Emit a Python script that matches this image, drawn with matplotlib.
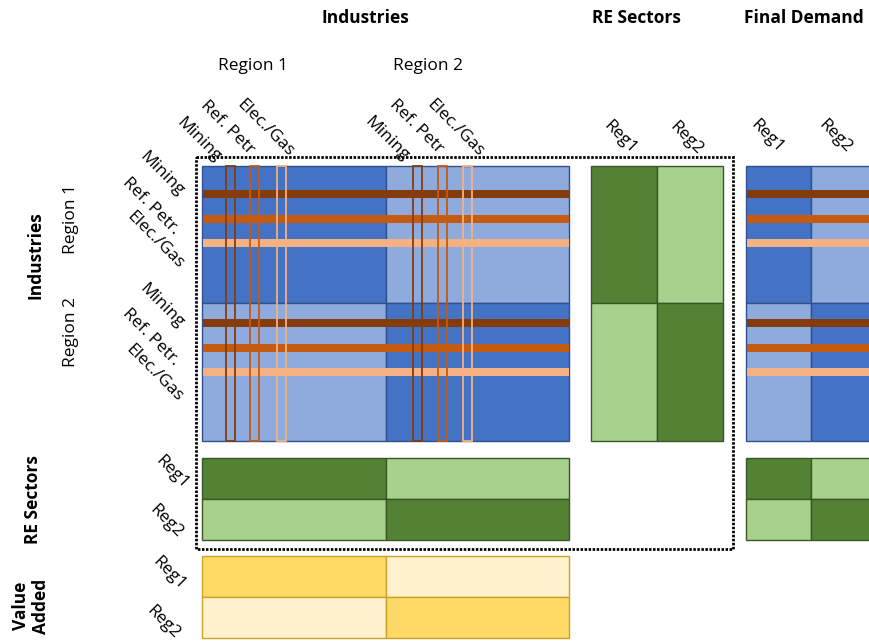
import matplotlib.pyplot as plt
from matplotlib.patches import Rectangle

plt.rcParams['font.family'] = ['Open Sans', 'DejaVu Sans']

##### labels #####
col_titles = ['Industries', 'RE Sectors', 'Final Demand']
row_titles = ['Industries', 'RE Sectors', 'Value\nAdded']
regions = ['Region 1', 'Region 2']
regs = ['Reg1', 'Reg2']
sectors_top = ['Mining', 'Ref. Petr', 'Elec./Gas']
sectors_side = ['Mining', 'Ref. Petr.', 'Elec./Gas']

# 1 = within-region flow (dark tile), 0 = cross-region flow (light tile)
pattern = [[1, 0],
           [0, 1]]

##### colours #####
blue_dark, blue_light, blue_edge = '#4472C4', '#8FAADC', '#2F528F'
green_dark, green_light, green_edge = '#548235', '#A9D18E', '#385723'
yellow_dark, yellow_light, yellow_edge = '#FFD966', '#FFF2CC', '#C9A227'
sector_colors = ['#843C0C', '#C55A11', '#F4B183']

##### layout (pixels) #####
ind_x = [202, 386, 569]
re_x = [591, 657, 723]
fd_x = [746, 811, 876]
ind_y = [166, 303, 441]
re_y = [458, 499, 540]
va_y = [556, 597, 638]
stripe_y = [[194, 219, 243], [323, 348, 372]]
stripe_x = [[230.5, 254.5, 281.5], [417.5, 442, 467.5]]

fig = plt.figure(figsize=(8.69, 6.42), dpi=100)
ax = fig.add_axes([0, 0, 1, 1])
ax.set_xlim(0, 869)
ax.set_ylim(642, 0)
ax.axis('off')


def block(xe, ye, dark, light, edge):
    for i in range(2):
        for j in range(2):
            c = dark if pattern[i][j] else light
            ax.add_patch(Rectangle((xe[j], ye[i]), xe[j + 1] - xe[j], ye[i + 1] - ye[i],
                                   facecolor=c, edgecolor=edge, lw=1, zorder=1))


# tiles
block(ind_x, ind_y, blue_dark, blue_light, blue_edge)
block(fd_x, ind_y, blue_dark, blue_light, blue_edge)
block(re_x, ind_y, green_dark, green_light, green_edge)
block(ind_x, re_y, green_dark, green_light, green_edge)
block(fd_x, re_y, green_dark, green_light, green_edge)
block(ind_x, va_y, yellow_dark, yellow_light, yellow_edge)

# horizontal sector stripes (rows) through industries and final demand
for i in range(2):
    for k in range(3):
        for xe in (ind_x, fd_x):
            ax.add_patch(Rectangle((xe[0] + 0.5, stripe_y[i][k] - 4.3), xe[2] - xe[0] - 1, 8.6,
                                   facecolor=sector_colors[k], edgecolor='none', zorder=2))

# vertical sector columns (outlined)
for j in range(2):
    for k in range(3):
        ax.add_patch(Rectangle((stripe_x[j][k] - 4.5, ind_y[0]), 9, ind_y[2] - ind_y[0],
                               fill=False, edgecolor=sector_colors[k], lw=1.3, zorder=3))

# dotted frame around the RE-extended transaction matrix
ax.add_patch(Rectangle((196, 157), 537, 392, fill=False, edgecolor='black',
                       lw=2.0, ls=(0, (0.9, 0.55)), zorder=4))

##### text #####
fs = 12.5
for x, t in zip([365, 636, 804], col_titles):
    ax.text(x, 18, t, ha='center', va='center', fontsize=fs, fontweight='bold')

for x, t in zip([253, 428], regions):
    ax.text(x, 66, t, ha='center', va='center', fontsize=fs)

ax.text(36, 255, row_titles[0], ha='center', va='center', rotation=90, fontsize=fs, fontweight='bold')
ax.text(33, 500, row_titles[1], ha='center', va='center', rotation=90, fontsize=fs, fontweight='bold')
ax.text(31, 606, row_titles[2], ha='center', va='center', rotation=90, fontsize=fs,
        fontweight='bold', linespacing=1.15)

for y, t in zip([219, 332], regions):
    ax.text(71, y, t, ha='center', va='center', rotation=90, fontsize=fs)

# column sector labels
top_centers = [[(198, 140), (227, 128), (265, 128)],
               [(386, 139), (416, 127), (455, 128)]]
for j in range(2):
    for k in range(3):
        x, y = top_centers[j][k]
        ax.text(x, y, sectors_top[k], ha='center', va='center', rotation=-45,
                rotation_mode='anchor', fontsize=fs)

# row sector labels
side_centers = [[(161, 174), (151, 206), (155, 240)],
                [(161, 306), (151, 337), (154, 373)]]
for i in range(2):
    for k in range(3):
        x, y = side_centers[i][k]
        ax.text(x, y, sectors_side[k], ha='center', va='center', rotation=-45,
                rotation_mode='anchor', fontsize=fs)

# Reg1/Reg2 labels
for (x, y), t in zip([(620, 137), (686, 138), (767, 136), (835, 136)], regs * 2):
    ax.text(x, y, t, ha='center', va='center', rotation=-45, rotation_mode='anchor', fontsize=fs)
for (x, y), t in zip([(172, 472), (166, 521), (169, 573), (163, 622)], regs * 2):
    ax.text(x, y, t, ha='center', va='center', rotation=-45, rotation_mode='anchor', fontsize=fs)

plt.savefig('out.png', dpi=100)
